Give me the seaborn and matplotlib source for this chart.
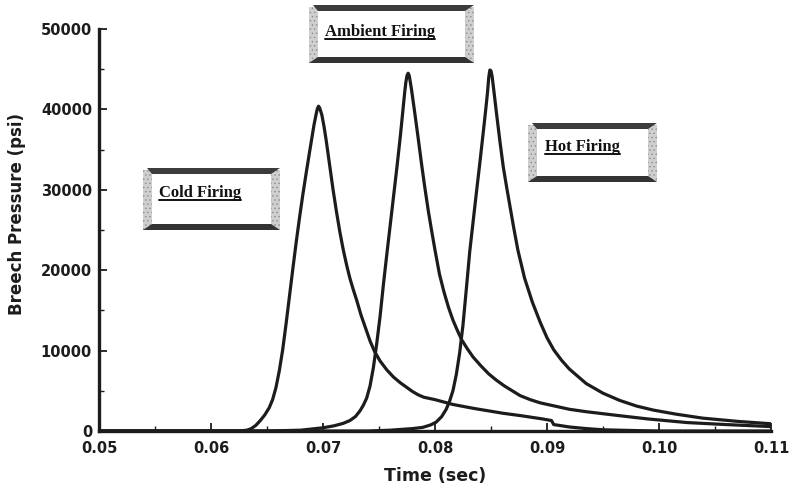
import numpy as np
import pandas as pd
import matplotlib
matplotlib.use("Agg")
import matplotlib.pyplot as plt
import seaborn as sns
from matplotlib.patches import Rectangle, Polygon
from matplotlib.lines import Line2D
from matplotlib.ticker import MultipleLocator

# ---------------- data ----------------
t_cold = [0.050, 0.060, 0.0625, 0.0632, 0.0636, 0.0640, 0.0644, 0.0648, 0.0652, 0.0655,
          0.0658, 0.0661, 0.0664, 0.0667, 0.0670, 0.0673, 0.0676, 0.0679, 0.0682, 0.0685,
          0.0688, 0.0690, 0.0692, 0.0694, 0.0695, 0.0696, 0.0697, 0.0699, 0.0701, 0.0703,
          0.0706, 0.0709, 0.0712, 0.0715, 0.0718, 0.0721, 0.0724, 0.0727, 0.0730, 0.0734,
          0.0738, 0.0742, 0.0746, 0.0751, 0.0757, 0.0763, 0.0769, 0.0775, 0.0780, 0.0785,
          0.0790, 0.0800, 0.0816, 0.0835, 0.0861, 0.0877, 0.0896, 0.0904, 0.0906, 0.0920,
          0.0935, 0.0950, 0.0980, 0.1000, 0.1100]
p_cold = [0, 0, 0, 100, 300, 700, 1300, 2000, 2900, 3900,
          5400, 7500, 10100, 13300, 16700, 20100, 23400, 26500, 29400, 32100,
          34700, 36400, 38100, 39500, 40100, 40400, 40200, 39300, 37800, 36000,
          33000, 30000, 27300, 24800, 22600, 20700, 19000, 17600, 16300, 14400,
          12800, 11200, 9900, 8700, 7600, 6700, 6000, 5400, 4900, 4500,
          4200, 3900, 3300, 2800, 2200, 1900, 1500, 1300, 800, 500,
          300, 150, 50, 0, 0]

t_amb = [0.050, 0.065, 0.0680, 0.0700, 0.0710, 0.0718, 0.0724, 0.0729, 0.0733, 0.0736,
         0.0739, 0.0742, 0.0745, 0.0748, 0.0751, 0.0754, 0.0757, 0.0760, 0.0763, 0.0766,
         0.0769, 0.0771, 0.0773, 0.0774, 0.0775, 0.0776, 0.0777, 0.0779, 0.0782, 0.0785,
         0.0788, 0.0791, 0.0794, 0.0797, 0.0800, 0.0804, 0.0808, 0.0812, 0.0816, 0.0820,
         0.0824, 0.0829, 0.0834, 0.0841, 0.0848, 0.0855, 0.0862, 0.0869, 0.0876, 0.0885,
         0.0894, 0.0907, 0.0920, 0.0935, 0.0950, 0.0965, 0.0990, 0.1025, 0.1060, 0.1100]
p_amb = [0, 0, 100, 400, 650, 950, 1300, 1800, 2500, 3200,
         4100, 5600, 7900, 10900, 14300, 18300, 22000, 25600, 29200, 32800,
         36600, 39400, 42200, 43400, 44200, 44500, 44200, 42500, 39500, 36400,
         33200, 30200, 27400, 24900, 22500, 19500, 17300, 15400, 13800, 12500,
         11300, 10200, 9200, 8100, 7100, 6300, 5600, 5000, 4400, 3900,
         3500, 3100, 2700, 2400, 2150, 1900, 1500, 1050, 800, 550]

t_hot = [0.050, 0.074, 0.0760, 0.0780, 0.0789, 0.0796, 0.0801, 0.0806, 0.0810, 0.0813,
         0.0816, 0.0819, 0.0822, 0.0825, 0.0828, 0.0831, 0.0834, 0.0837, 0.0840, 0.0842,
         0.0844, 0.0846, 0.0847, 0.0848, 0.0849, 0.0850, 0.0851, 0.0853, 0.0855, 0.0858,
         0.0861, 0.0864, 0.0867, 0.0870, 0.0874, 0.0880, 0.0887, 0.0894, 0.0900, 0.0906,
         0.0913, 0.0920, 0.0935, 0.0950, 0.0965, 0.0980, 0.0995, 0.1015, 0.1039, 0.1070,
         0.1100]
p_hot = [0, 0, 100, 300, 450, 750, 1100, 1800, 2700, 3700,
         5000, 7000, 9700, 13200, 17700, 22300, 26000, 29700, 33300, 35800,
         38300, 40900, 42300, 44000, 44900, 44800, 44100, 41800, 39400, 36000,
         32800, 30300, 27900, 25500, 22500, 19000, 16000, 13500, 11600, 10100,
         8800, 7700, 5900, 4700, 3800, 3100, 2600, 2100, 1600, 1200,
         900]

series_names = ["Cold Firing", "Ambient Firing", "Hot Firing"]
x_ticks = [0.05, 0.06, 0.07, 0.08, 0.09, 0.10, 0.11]
x_tick_labels = ["0.05", "0.06", "0.07", "0.08", "0.09", "0.10", "0.11"]
y_ticks = [0, 10000, 20000, 30000, 40000, 50000]
y_tick_labels = ["0", "10000", "20000", "30000", "40000", "50000"]

df = pd.concat([
    pd.DataFrame({"t": t_cold, "p": p_cold, "series": series_names[0]}),
    pd.DataFrame({"t": t_amb, "p": p_amb, "series": series_names[1]}),
    pd.DataFrame({"t": t_hot, "p": p_hot, "series": series_names[2]}),
], ignore_index=True)

# ---------------- figure ----------------
sns.set_style("ticks")
plt.rcParams["font.family"] = ["DejaVu Sans"]
plt.rcParams["hatch.linewidth"] = 0.5

W, H = 790, 487
fig = plt.figure(figsize=(W / 100, H / 100), dpi=100)
ax = fig.add_axes([99 / W, 56 / H, (771 - 99) / W, (431 - 29) / H])

ink = "#1c1c1c"
sns.lineplot(data=df, x="t", y="p", hue="series", palette=[ink, ink, ink],
             estimator=None, legend=False, linewidth=2.3, ax=ax)
for ln in ax.lines:
    ln.set_solid_joinstyle("round")

ax.set_xlim(0.05, 0.11)
ax.set_ylim(0, 50000)
ax.set_xticks(x_ticks)
ax.set_xticklabels(x_tick_labels)
ax.set_yticks(y_ticks)
ax.set_yticklabels(y_tick_labels)
ax.xaxis.set_minor_locator(MultipleLocator(0.005))
ax.yaxis.set_minor_locator(MultipleLocator(5000))

for s in ["top", "right"]:
    ax.spines[s].set_visible(False)
for s in ["left", "bottom"]:
    ax.spines[s].set_linewidth(2.4)
    ax.spines[s].set_color(ink)

ax.tick_params(which="major", direction="in", length=6, width=1.3, color=ink,
               labelsize=10.5, pad=5)
ax.tick_params(which="minor", direction="in", length=3.5, width=1.0, color=ink)
ax.tick_params(axis="x", which="major", pad=7)
for lab in ax.get_xticklabels() + ax.get_yticklabels():
    lab.set_fontweight("bold")
    lab.set_color(ink)

ax.set_xlabel("Time (sec)", fontsize=12.5, fontweight="bold", color=ink)
ax.set_ylabel("Breech Pressure (psi)", fontsize=12, fontweight="bold", color=ink)
ax.xaxis.set_label_coords(0.5, -0.09)
ax.yaxis.set_label_coords(-0.108, 0.54)


# ---------------- label boxes (pixel coordinates, top-left origin) ----------------
def fx(x):
    return x / W


def fy(y):
    return 1 - y / H


def rect(x0, y0, x1, y1, color, z=5, hatch=None, hcolor="none"):
    fig.add_artist(Rectangle((fx(x0), fy(y1)), fx(x1) - fx(x0), fy(y0) - fy(y1),
                             transform=fig.transFigure, facecolor=color,
                             edgecolor=hcolor, linewidth=0, hatch=hatch, zorder=z))


def poly(pts, color, z=6):
    fig.add_artist(Polygon([(fx(x), fy(y)) for x, y in pts], closed=True,
                           transform=fig.transFigure, facecolor=color,
                           edgecolor="none", linewidth=0, zorder=z))


def label_box(x0, y0, x1, y1, text, tx, ty):
    side = 9
    band = 6
    rect(x0, y0 + 2, x1, y1, "#cfcfcf", 5, hatch="....", hcolor="#8c8c8c")
    poly([(x0 + 4, y0), (x1, y0), (x1 - side, y0 + band), (x0 + side, y0 + band)],
         "#3c3c3c", 6)
    poly([(x0, y1), (x1, y1), (x1 - side, y1 - band), (x0 + side, y1 - band)],
         "#333333", 6)
    rect(x0 + side, y0 + band, x1 - side, y1 - band, "white", 7)
    t = fig.text(fx(tx), fy(ty), text, ha="left", va="center",
                 family="Liberation Serif", fontweight="bold", fontsize=12,
                 color="#111111", zorder=8)
    return t


texts = [
    label_box(143, 168, 280, 230, series_names[0], 159, 193),
    label_box(309, 5, 474, 63, series_names[1], 325, 32),
    label_box(528, 123, 657, 182, series_names[2], 545, 147),
]

fig.canvas.draw()
renderer = fig.canvas.get_renderer()
for t in texts:
    bb = t.get_window_extent(renderer)
    yline = bb.y0 + 1
    fig.add_artist(Line2D([bb.x0 / W, bb.x1 / W], [yline / H, yline / H],
                          transform=fig.transFigure, color="#111111",
                          linewidth=1.4, zorder=9))

fig.savefig("out.png", dpi=100)
